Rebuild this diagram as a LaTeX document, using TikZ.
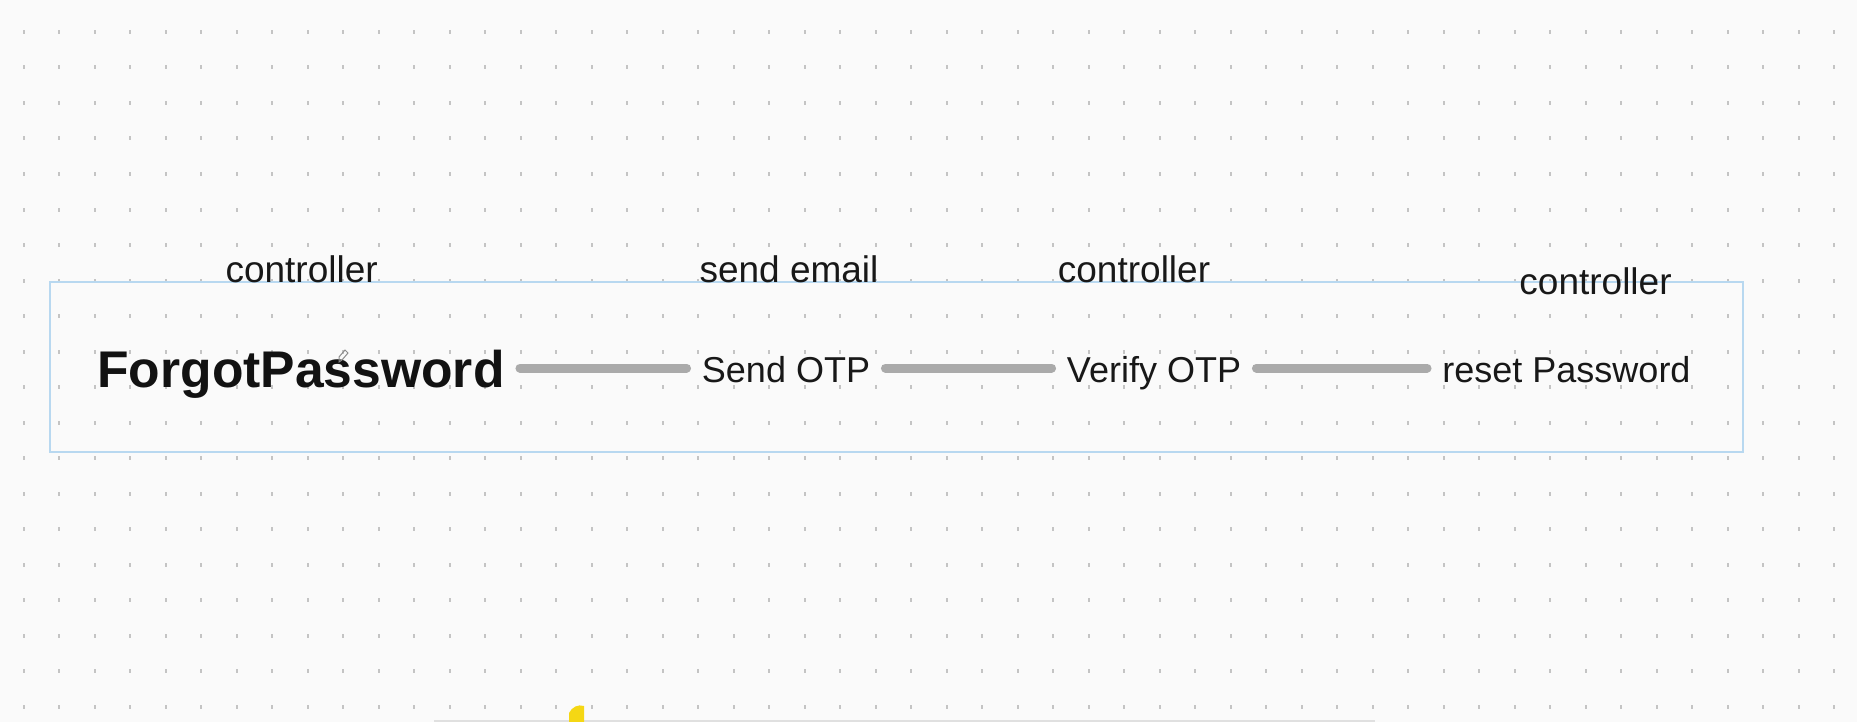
\documentclass[tikz,border=0pt]{standalone}
\usepackage{fontspec}
\setmainfont{Liberation Sans}
\definecolor{bgc}{RGB}{250,250,250}
\definecolor{dotc}{RGB}{196,196,196}
\definecolor{boxc}{RGB}{184,216,240}
\definecolor{linec}{RGB}{170,170,170}
\definecolor{txtc}{RGB}{24,24,24}
\definecolor{yel}{RGB}{245,215,20}
\tikzset{
  lbl/.style={anchor=base, inner sep=0pt, text=txtc, font=\fontsize{18.5}{20}\selectfont},
  stepnode/.style={anchor=base, inner sep=0pt, text=txtc, text height=14pt, text depth=0pt, font=\fontsize{18}{20}\selectfont},
  titlenode/.style={anchor=base, inner sep=0pt, text=black!93, text height=19pt, text depth=0pt, font=\fontsize{25.8}{28}\selectfont\bfseries},
  conn/.style={draw=linec, line width=4.5pt, line cap=round, shorten <=7.5pt, shorten >=7.5pt},
  framebox/.style={draw=boxc, line width=1pt}
}
\begin{document}
\begin{tikzpicture}[x=0.5pt,y=-0.5pt]
\useasboundingbox (0,0) rectangle (1857,722);
\fill[bgc] (0,0) rectangle (1857,722);
% dot grid
\foreach \i in {0,...,51}{
  \foreach \j in {0,...,19}{
    \fill[dotc] ({23.7+35.5*\i-1},{32+35.5*\j-2}) rectangle ++(2,4);
  }
}
% frame
\draw[framebox] (49.5,282) rectangle (1742.5,452);
% labels
\node[lbl] (c1) at (301.6,282) {controller};
\node[lbl] (se) at (789,282) {send email};
\node[lbl] (c2) at (1134,282) {controller};
\node[lbl] (c3) at (1595.5,294) {controller};
% main nodes
\node[titlenode] (fp) at (301,387) {ForgotPassword};
\node[stepnode] (so) at (786,382) {Send OTP};
\node[stepnode] (vo) at (1154,382) {Verify OTP};
\node[stepnode] (rp) at (1566.5,382) {reset Password};
% connectors
\draw[conn] (fp.east) -- (so.west);
\draw[conn] (so.east) -- (vo.west);
\draw[conn] (vo.east) -- (rp.west);
% small cursor mark
\draw[black!45, line width=0.5pt] (339,362) -- (339,357) -- (345,350) -- (348,353) -- (342,360) -- cycle;
% bottom toolbar edge and yellow mark
\fill[black!12] (434,719.5) rectangle (1375,722);
\fill[yel] (569,722) -- (569,713) .. controls (572,707) and (578,704) .. (584,706) -- (584,722) -- cycle;
\end{tikzpicture}
\end{document}
